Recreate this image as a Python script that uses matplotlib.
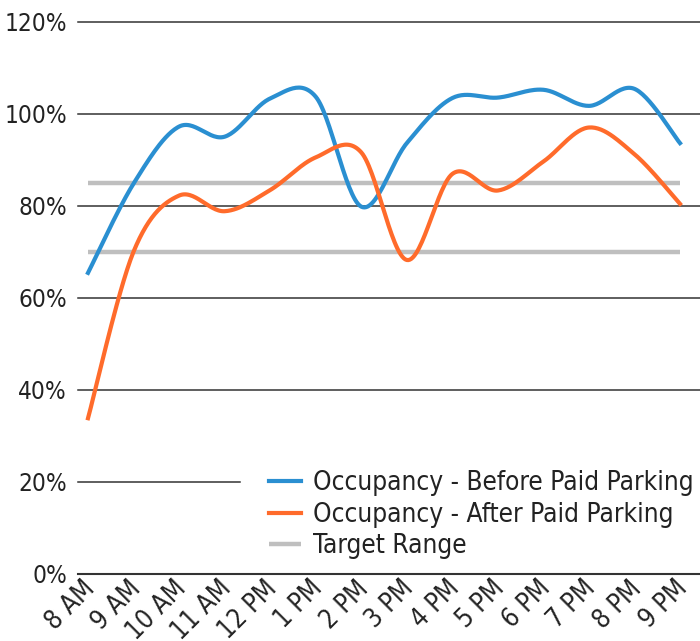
import matplotlib
matplotlib.use("Agg")
import matplotlib.pyplot as plt
import matplotlib.transforms as mtransforms
import numpy as np

# data
hours = ["8 AM", "9 AM", "10 AM", "11 AM", "12 PM", "1 PM", "2 PM",
         "3 PM", "4 PM", "5 PM", "6 PM", "7 PM", "8 PM", "9 PM"]
before = [65.4, 84.8, 97.2, 95.0, 103.3, 103.7, 79.8,
          93.6, 103.4, 103.5, 105.2, 101.7, 105.4, 93.6]
after = [33.8, 70.0, 82.2, 78.8, 83.4, 90.5, 91.6,
         68.2, 86.9, 83.3, 89.6, 97.0, 91.2, 80.4]
target = [85, 70]
yticks = [0, 20, 40, 60, 80, 100, 120]

plt.rcParams['font.family'] = ['DejaVu Sans']
plt.rcParams['font.stretch'] = 'condensed'


def smooth(y, n=30):
    # catmull-rom through the points, like the office "smoothed line"
    y = np.asarray(y, float)
    x = np.arange(len(y), dtype=float)
    px = np.concatenate([[x[0]], x, [x[-1]]])
    py = np.concatenate([[y[0]], y, [y[-1]]])
    xs, ys = [], []
    for i in range(1, len(px) - 2):
        t = np.linspace(0, 1, n, endpoint=False)
        for p, out in ((px, xs), (py, ys)):
            p0, p1, p2, p3 = p[i - 1], p[i], p[i + 1], p[i + 2]
            out.append(0.5 * (2 * p1 + (-p0 + p2) * t
                              + (2 * p0 - 5 * p1 + 4 * p2 - p3) * t ** 2
                              + (-p0 + 3 * p1 - 3 * p2 + p3) * t ** 3))
    xs.append([x[-1]])
    ys.append([y[-1]])
    return np.concatenate(xs), np.concatenate(ys)


fig = plt.figure(figsize=(7, 6.41), dpi=100)
ax = fig.add_axes([78 / 700, 1 - 573.7 / 641, 622 / 700, 552 / 641])

x = np.arange(len(hours))
ax.set_xlim(-10 / 45.54, 13 + 20 / 45.54)
ax.set_ylim(0, 120)

for y in yticks:
    xmax = (240 - 78) / 622 if y == 20 else 1
    ax.axhline(y, xmax=xmax, color="#333333", lw=1.1 if y else 1.5, zorder=1, clip_on=False)

gx = [x[0], x[-1]]
for i, t in enumerate(target):
    ax.plot(gx, [t, t], color="#BFBFBF", lw=3.2, solid_capstyle="butt",
            label="Target Range" if i == 0 else None, zorder=2)

bx, by = smooth(before)
ax.plot(bx, by, color="#2A8FD1", lw=3.0, label="Occupancy - Before Paid Parking", zorder=3)
ox, oy = smooth(after)
ax.plot(ox, oy, color="#FF6B2B", lw=3.0, label="Occupancy - After Paid Parking", zorder=3)

for s in ax.spines.values():
    s.set_visible(False)

ax.set_yticks(yticks)
ax.set_yticklabels([f"{v}%" for v in yticks], fontsize=17.5, color="#222222")
ax.tick_params(axis="y", length=0, pad=8)

ax.set_xticks(x)
ax.set_xticklabels(hours, fontsize=18.5, color="#222222", rotation=45,
                   ha="right", va="top", rotation_mode="anchor")
ax.tick_params(axis="x", length=0, pad=0)
off = mtransforms.ScaledTranslation(-6 / 100, -2 / 100, fig.dpi_scale_trans)
for lab in ax.get_xticklabels():
    lab.set_transform(lab.get_transform() + off)

h, l = ax.get_legend_handles_labels()
order = [1, 2, 0]
leg = ax.legend([h[i] for i in order], [l[i] for i in order], loc="upper left",
                bbox_to_anchor=(269 / 700, 1 - 470 / 641), bbox_transform=fig.transFigure,
                frameon=False, fontsize=18.8, handlelength=1.23, handletextpad=0.46,
                labelspacing=0.22, borderpad=0, borderaxespad=0, labelcolor="#222222")

fig.savefig("out.png", dpi=100)
